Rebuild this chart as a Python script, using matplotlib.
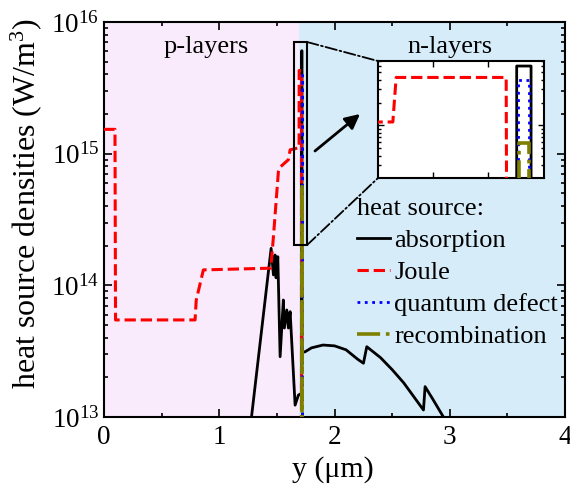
import matplotlib
matplotlib.use("Agg")
import matplotlib.pyplot as plt
from matplotlib.patches import Rectangle, ConnectionPatch
from matplotlib.ticker import LogLocator, MultipleLocator, NullFormatter

plt.rcParams['font.family'] = ['Liberation Serif', 'DejaVu Serif']
plt.rcParams['mathtext.fontset'] = 'custom'
plt.rcParams['mathtext.rm'] = 'Liberation Serif'
plt.rcParams['mathtext.it'] = 'Liberation Serif:italic'
plt.rcParams['font.size'] = 19

# ---------------- data ----------------
# absorption (black)
abs_x = [1.26, 1.450, 1.470, 1.484, 1.493, 1.508, 1.528, 1.556, 1.565, 1.586, 1.600,
         1.615, 1.658, 1.687, 1.7151, 1.7151, 1.7177, 1.7177, 1.745, 1.80, 1.90, 2.00,
         2.10, 2.20, 2.251, 2.28, 2.40, 2.50, 2.60, 2.70, 2.772, 2.786, 2.85, 2.945, 3.00]
abs_y = [7.1e12, 1.91e14, 1.20e14, 1.70e14, 1.14e14, 1.65e14, 2.87e13, 7.74e13, 4.74e13,
         6.50e13, 4.74e13, 6.31e13, 1.23e13, 1.47e13, 1.51e13, 6.05e15, 6.05e15, 3.09e13,
         3.13e13, 3.35e13, 3.52e13, 3.47e13, 3.24e13, 2.75e13, 2.56e13, 3.42e13, 2.82e13,
         2.29e13, 1.82e13, 1.38e13, 1.13e13, 1.70e13, 1.38e13, 1.00e13, 8.3e12]

# Joule (red)
joule_x = [0.0, 0.095, 0.10, 0.79, 0.80, 0.862, 1.447, 1.47, 1.513, 1.528, 1.60, 1.615,
           1.6927, 1.6933, 1.7132, 1.7134, 4.0]
joule_y = [1.53e15, 1.53e15, 5.46e13, 5.46e13, 7.7e13, 1.31e14, 1.35e14, 2.34e14, 7.3e14,
           7.9e14, 9.0e14, 1.07e15, 1.11e15, 4.28e15, 4.28e15, 1e11, 1e11]

# quantum defect (blue)
qd_x = [1.60, 1.71535, 1.71535, 1.7173, 1.7173, 1.80]
qd_y = [1e11, 1e11, 3.99e15, 3.99e15, 1e11, 1e11]

# recombination (olive)
rec_x = [1.60, 1.7155, 1.7155, 1.7173, 1.7173, 1.80]
rec_y = [1e11, 1e11, 5.87e14, 5.87e14, 1e11, 1e11]

p_n_boundary = 1.69
zoom_box_x = (1.649, 1.762)
zoom_box_y = (10 ** 14.306, 10 ** 15.848)
inset_xlim = (1.69, 1.72)
inset_xticks = [1.70, 1.71]

labels = ['absorption', 'Joule', 'quantum defect', 'recombination']

# ---------------- figure ----------------
fig = plt.figure(figsize=(5.7, 4.88), dpi=100)
ax = fig.add_axes([0.1825, 0.1455, 0.8087, 0.8094])

ax.axvspan(0, p_n_boundary, color='#F9EBFB', zorder=0, lw=0)
ax.axvspan(p_n_boundary, 4, color='#D6ECF8', zorder=0, lw=0)

def draw(a):
    a.plot(abs_x, abs_y, color='k', lw=2.0, label=labels[0], zorder=3)
    a.plot(joule_x, joule_y, color='#FF0000', lw=2.2, ls='--', label=labels[1], zorder=4)
    a.plot(qd_x, qd_y, color='#0000FF', lw=2.0, ls=':', label=labels[2], zorder=5)
    a.plot(rec_x, rec_y, color='#808000', lw=2.6, ls='-.', label=labels[3], zorder=6)

draw(ax)
ax.set_yscale('log')
ax.set_xlim(0, 4)
ax.set_ylim(1e13, 1e16)
ax.xaxis.set_major_locator(MultipleLocator(1))
ax.xaxis.set_minor_locator(MultipleLocator(0.5))
ax.yaxis.set_major_locator(LogLocator(base=10, numticks=10))
ax.yaxis.set_minor_locator(LogLocator(base=10, subs=range(2, 10), numticks=20))
ax.yaxis.set_minor_formatter(NullFormatter())
ax.tick_params(which='both', direction='in', top=True, right=True, width=1.2)
ax.tick_params(which='major', length=6, labelsize=19.5)
ax.tick_params(axis='x', which='major', pad=6)
ax.tick_params(which='minor', length=3)
for s in ax.spines.values():
    s.set_linewidth(1.5)

ax.set_xlabel('y (μm)', fontsize=21.5)
ax.xaxis.set_label_coords(0.497, -0.1)
ax.set_ylabel('heat source densities (W/m$^3$)', fontsize=23)
ax.yaxis.set_label_coords(-0.13, 0.54)

ax.text(0.89, 10 ** 15.81, 'p-layers', ha='center', va='center', fontsize=19)
ax.text(3.0, 10 ** 15.81, 'n-layers', ha='center', va='center', fontsize=19)

# zoom rectangle
rect = Rectangle((zoom_box_x[0], zoom_box_y[0]), zoom_box_x[1] - zoom_box_x[0],
                 zoom_box_y[1] - zoom_box_y[0], fill=False, ec='k', lw=1.5, zorder=7)
ax.add_patch(rect)

leg = ax.legend(loc='upper left', bbox_to_anchor=(352 / 570, 1 - 193 / 488),
                bbox_transform=fig.transFigure, frameon=False, title='heat source:',
                alignment='left', fontsize=19, title_fontsize=19,
                handlelength=1.25, handletextpad=0.15, labelspacing=0.32,
                borderpad=0.2, borderaxespad=0)

# inset
axin = fig.add_axes([0.663, 0.635, 0.291, 0.240])
axin.set_facecolor('white')
draw(axin)
axin.set_yscale('log')
axin.set_xlim(*inset_xlim)
axin.set_ylim(*zoom_box_y)
axin.set_xticks(inset_xticks)
axin.yaxis.set_major_locator(LogLocator(base=10, numticks=10))
axin.yaxis.set_minor_locator(LogLocator(base=10, subs=range(2, 10), numticks=20))
axin.tick_params(which='both', direction='in', top=True, right=True,
                 labelbottom=False, labelleft=False, width=1.0)
axin.tick_params(which='major', length=4)
axin.tick_params(which='minor', length=2)
axin.yaxis.set_minor_formatter(NullFormatter())
for s in axin.spines.values():
    s.set_linewidth(1.5)

for yb, ya in [(1, zoom_box_y[1]), (0, zoom_box_y[0])]:
    cp = ConnectionPatch(xyA=(zoom_box_x[1], ya), coordsA=ax.transData,
                         xyB=(0, yb), coordsB=axin.transAxes,
                         ls='-.', lw=1.3, color='k')
    fig.add_artist(cp)

ax.annotate('', xy=(360 / 570, 1 - 114 / 488), xycoords='figure fraction',
            xytext=(315 / 570, 1 - 151 / 488), textcoords='figure fraction',
            arrowprops=dict(arrowstyle='-|>', lw=2, color='k', mutation_scale=22,
                            shrinkA=0, shrinkB=0))

fig.savefig('out.png', dpi=100)
